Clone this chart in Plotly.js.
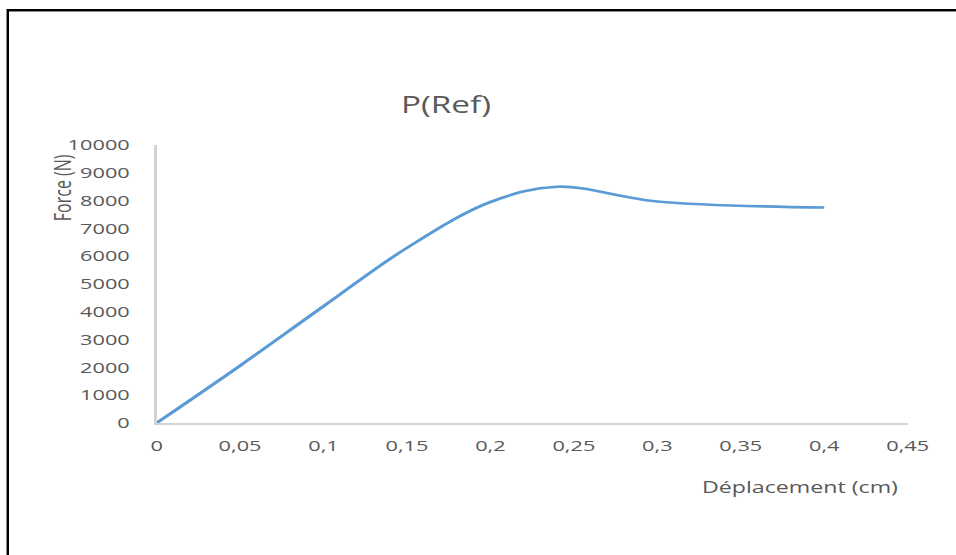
<!DOCTYPE html>
<html>
<head>
<meta charset="utf-8">
<script src="https://cdn.plot.ly/plotly-3.0.1.min.js"></script>
<style>
  html, body { margin: 0; padding: 0; background: #fff; }
  #frame { position: relative; width: 956px; height: 555px; overflow: hidden; background: #fff; }
  #chart { position: absolute; left: 0; top: 0; height: 555px; transform-origin: 0 0; }
  .edge { position: absolute; pointer-events: none; }
  #edgeTop { left: 6px; right: 0; top: 9px; height: 2px; background: #000; border-bottom: 1px solid #8a8a8a; }
  #edgeLeft { left: 6px; top: 9px; bottom: 0; width: 2px; background: #000; border-left: 1px solid #8a8a8a; }
</style>
</head>
<body>
<div id="frame">
  <div id="chart"></div>
  <div class="edge" id="edgeTop"></div>
  <div class="edge" id="edgeLeft"></div>
</div>
<script>
// Load–displacement curve for the reference specimen
const deplacement = [0, 0.05, 0.1, 0.15, 0.2, 0.24, 0.3, 0.4];
const force = [0, 2060, 4200, 6300, 7950, 8500, 7970, 7750];

const xTicks = [0, 0.05, 0.1, 0.15, 0.2, 0.25, 0.3, 0.35, 0.4, 0.45];
const xTickText = ['0', '0,05', '0,1', '0,15', '0,2', '0,25', '0,3', '0,35', '0,4', '0,45'];
const yTicks = [0, 1000, 2000, 3000, 4000, 5000, 6000, 7000, 8000, 9000, 10000];
const yTickText = ['0', '1000', '2000', '3000', '4000', '5000', '6000', '7000', '8000', '9000', '10000'];

// The chart is laid out narrower and widened horizontally as a whole
const SX = 1.45;
const W = 956 / SX, H = 555;
const el = document.getElementById('chart');
el.style.width = W + 'px';
el.style.transform = 'scaleX(' + SX + ')';

// plot area in page pixels
const areaL = 157, areaR = 908, areaT = 145, areaB = 423;
const px = v => (v - areaL) / (areaR - areaL);
const py = v => (areaB - v) / (areaB - areaT);

const txt = '#595959';
const font = 'Open Sans, Noto Sans, sans-serif';

const trace = {
  type: 'scatter',
  mode: 'lines',
  x: deplacement,
  y: force,
  line: { color: '#5b9bd5', width: 2.6, shape: 'spline', smoothing: 1 },
  hoverinfo: 'skip'
};

const layout = {
  width: W,
  height: H,
  paper_bgcolor: '#ffffff',
  plot_bgcolor: '#ffffff',
  showlegend: false,
  margin: { l: areaL / SX, r: W - areaR / SX, t: areaT, b: H - areaB, pad: 0 },
  title: {
    text: 'P(Ref)',
    font: { family: font, size: 23, color: txt },
    xref: 'container', yref: 'container',
    x: 446 / 956, y: 1 - 105 / 555,
    xanchor: 'center', yanchor: 'middle'
  },
  xaxis: {
    range: [0, 0.45],
    tickvals: xTicks,
    ticktext: xTickText,
    showgrid: false,
    zeroline: false,
    showline: true,
    linecolor: '#d4d4d4',
    linewidth: 1.5,
    ticks: '',
    ticklabelstandoff: 9,
    tickfont: { family: font, size: 15, color: txt },
    fixedrange: true
  },
  yaxis: {
    range: [0, 10000],
    tickvals: yTicks,
    ticktext: yTickText,
    showgrid: false,
    zeroline: false,
    showline: true,
    linecolor: '#d4d4d4',
    linewidth: 1.5,
    ticks: '',
    ticklabelstandoff: 14,
    tickfont: { family: font, size: 15, color: txt },
    fixedrange: true
  },
  annotations: [
    {
      text: 'Force (N)',
      xref: 'paper', yref: 'paper',
      x: px(63), y: py(188),
      xanchor: 'center', yanchor: 'middle',
      textangle: -90,
      showarrow: false,
      font: { family: font, size: 16, color: txt }
    },
    {
      text: 'Déplacement (cm)',
      xref: 'paper', yref: 'paper',
      x: px(800), y: py(487),
      xanchor: 'center', yanchor: 'middle',
      showarrow: false,
      font: { family: font, size: 16, color: txt }
    }
  ]
};

Plotly.newPlot(el, [trace], layout, { staticPlot: true, displayModeBar: false });
</script>
</body>
</html>
